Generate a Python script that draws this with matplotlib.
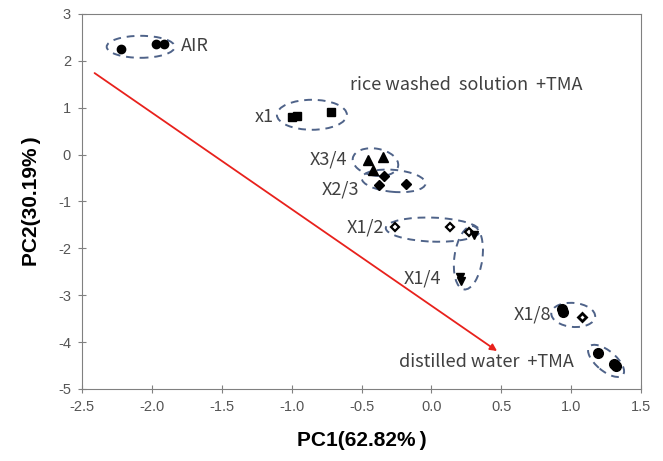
import matplotlib
matplotlib.use("Agg")
import matplotlib.pyplot as plt
from matplotlib.patches import Ellipse
from matplotlib.transforms import ScaledTranslation

# PCA scores
air_x = [-2.22, -1.97, -1.91]
air_y = [2.25, 2.36, 2.36]
x1_x = [-1.00, -0.96, -0.72]
x1_y = [0.80, 0.82, 0.91]
x34_x = [-0.45, -0.345, -0.415]
x34_y = [-0.11, -0.05, -0.33]
x23_x = [-0.34, -0.375, -0.18]
x23_y = [-0.45, -0.65, -0.62]
x12_x = [-0.26, 0.135, 0.27]
x12_y = [-1.54, -1.54, -1.65]
x14_x = [0.305, 0.205, 0.21]
x14_y = [-1.71, -2.62, -2.70]
x18_x = [0.935, 0.94]
x18_y = [-3.29, -3.36]
x18b_x = [1.08]
x18b_y = [-3.46]
dw_x = [1.19, 1.31, 1.32]
dw_y = [-4.23, -4.47, -4.52]

# group outlines: centre (data), width/height (px), angle
groups = [
    ((-2.08, 2.30), 68, 22, 0),
    ((-0.855, 0.85), 70, 30, 0),
    ((-0.40, -0.16), 46, 27, -10),
    ((-0.27, -0.56), 64, 22, -5),
    ((0.01, -1.60), 94, 24, -2),
    ((0.265, -2.20), 28, 64, -8),
    ((1.015, -3.42), 44, 24, -5),
    ((1.25, -4.40), 44, 20, -40),
]

labels = [
    ("AIR", -1.79, 2.32, "left"),
    ("rice washed  solution  +TMA", -0.58, 1.49, "left"),
    ("x1", -1.125, 0.80, "right"),
    ("X3/4", -0.60, -0.11, "right"),
    ("X2/3", -0.52, -0.75, "right"),
    ("X1/2", -0.34, -1.56, "right"),
    ("X1/4", 0.07, -2.64, "right"),
    ("X1/8", 0.86, -3.42, "right"),
    ("distilled water  +TMA", -0.23, -4.43, "left"),
]

fig = plt.figure(figsize=(6.63, 4.61), dpi=100)
ax = fig.add_axes([82/663, 1-389/461, (641-82)/663, (389-14)/461])

ax.plot(air_x, air_y, "o", color="black", ms=6)
ax.plot(x1_x, x1_y, "s", color="black", ms=6)
ax.plot(x34_x, x34_y, "^", color="black", ms=7)
ax.plot(x23_x, x23_y, "D", color="black", ms=5.5)
ax.plot(x12_x, x12_y, "D", mfc="white", mec="black", mew=1.6, ms=4.5)
ax.plot(x14_x, x14_y, "v", color="black", ms=6)
ax.plot(x18_x, x18_y, "o", color="black", ms=7)
ax.plot(x18b_x, x18b_y, "D", mfc="white", mec="black", mew=2, ms=4.5)
ax.plot(dw_x, dw_y, "o", color="black", ms=7)

for (cx, cy), w, h, ang in groups:
    tr = fig.dpi_scale_trans + ScaledTranslation(cx, cy, ax.transData)
    e = Ellipse((0, 0), w/100, h/100, angle=ang, transform=tr, fill=False,
                ec="#4f6389", lw=1.4, ls=(0, (4, 3)))
    ax.add_patch(e)

for txt, x, y, ha in labels:
    ax.text(x, y, txt, ha=ha, va="center", fontsize=13, color="#404040",
            family="Noto Sans CJK KR")

ax.annotate("", xy=(0.47, -4.19), xytext=(-2.41, 1.74),
            arrowprops=dict(arrowstyle="-|>", color="#e8211c", lw=1.3,
                            mutation_scale=10, shrinkA=0, shrinkB=0))

ax.set_xlim(-2.5, 1.5)
ax.set_ylim(-5, 3)
ax.set_xticks([-2.5, -2.0, -1.5, -1.0, -0.5, 0.0, 0.5, 1.0, 1.5])
ax.set_xticklabels(["-2.5", "-2.0", "-1.5", "-1.0", "-0.5", "0.0", "0.5", "1.0", "1.5"],
                   family="Liberation Sans")
ax.set_yticks(range(-5, 4))
ax.set_yticklabels([str(v) for v in range(-5, 4)], family="Liberation Sans")
ax.tick_params(direction="inout", length=6, color="#808080", labelsize=10.5,
               labelcolor="#555555", pad=5)
for s in ax.spines.values():
    s.set_color("#808080")

ax.set_xlabel("PC1(62.82%\u2009)", fontsize=15, fontweight="bold",
              family="Liberation Sans", labelpad=12)
ax.set_ylabel("PC2(30.19%\u2009)", fontsize=15, fontweight="bold",
              family="Liberation Sans", labelpad=12)

fig.savefig("out.png", dpi=100)
